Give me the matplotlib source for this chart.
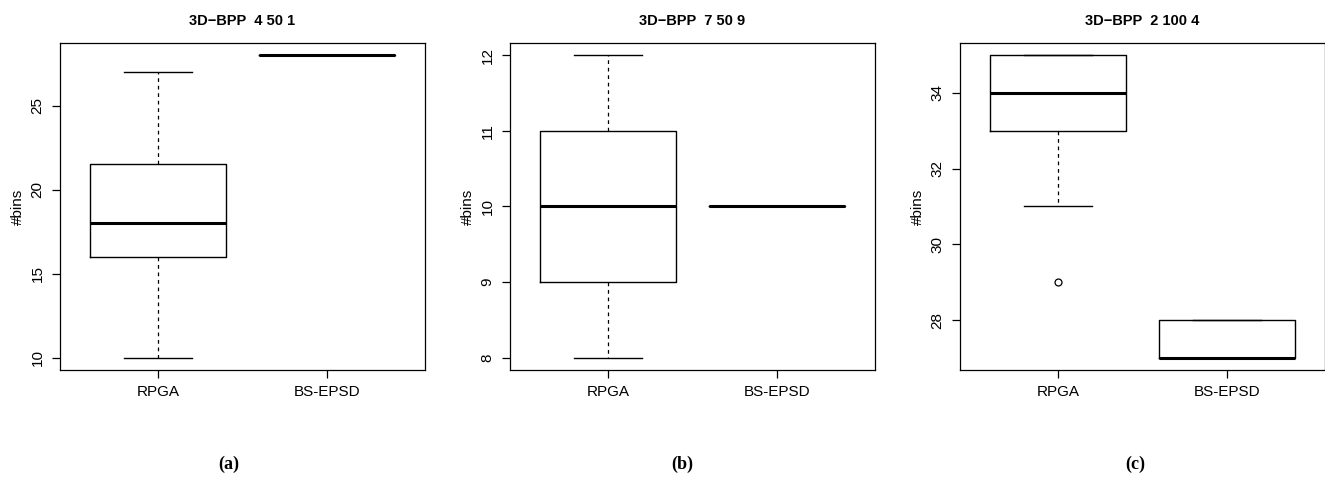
import numpy as np
import matplotlib
matplotlib.use('Agg')
import matplotlib.pyplot as plt

plt.rcParams['font.family'] = ['Liberation Sans', 'DejaVu Sans']

groups = ['RPGA', 'BS-EPSD']
titles = ['3D\u2212BPP  4 50 1', '3D\u2212BPP  7 50 9', '3D\u2212BPP  2 100 4']
captions = ['(a)', '(b)', '(c)']
caption_x = [0.173, 0.515, 0.857]

# per panel, per group: whisker low, q1, median, q3, whisker high
whislo = [[10, 28], [8, 10], [31, 27]]
q1 = [[16, 28], [9, 10], [33, 27]]
med = [[18, 28], [10, 10], [34, 27]]
q3 = [[21.5, 28], [11, 10], [35, 28]]
whishi = [[27, 28], [12, 10], [35, 28]]
fliers = [[[], []], [[], []], [[29], []]]

yticks = [[10, 15, 20, 25], [8, 9, 10, 11, 12], [28, 30, 32, 34]]

lefts = [0.0453, 0.3849, 0.7245]
w = 0.2755
bottom = 0.2276
h = 0.6826

fig = plt.figure(figsize=(13.25, 4.79), dpi=100)

for i in range(3):
    ax = fig.add_axes([lefts[i], bottom, w, h])
    stats = []
    for j in range(2):
        stats.append(dict(whislo=whislo[i][j], q1=q1[i][j], med=med[i][j],
                          q3=q3[i][j], whishi=whishi[i][j], fliers=fliers[i][j],
                          label=groups[j]))
    ax.bxp(stats, positions=[1, 2], widths=0.8, showfliers=True,
           boxprops=dict(color='black', linewidth=1.0),
           medianprops=dict(color='black', linewidth=2.2, solid_capstyle='butt'),
           whiskerprops=dict(color='black', linewidth=0.9, linestyle=(0, (3, 3))),
           capprops=dict(color='black', linewidth=1.0),
           capwidths=0.4,
           flierprops=dict(marker='o', markerfacecolor='none', markeredgecolor='black',
                           markersize=5, markeredgewidth=0.9))
    lo = min(whislo[i] + [f for g in fliers[i] for f in g])
    hi = max(whishi[i])
    pad = (hi - lo) * 0.04
    ax.set_ylim(lo - pad, hi + pad)
    ax.set_xlim(0.42, 2.58)
    ax.set_yticks(yticks[i])
    ax.set_yticklabels([str(t) for t in yticks[i]], rotation=90, va='center')
    ax.set_xticks([1, 2])
    ax.set_xticklabels(groups)
    ax.tick_params(direction='out', length=6, width=0.9, labelsize=11, pad=5)
    for s in ax.spines.values():
        s.set_linewidth(0.9)
    ax.set_ylabel('#bins', fontsize=11, labelpad=4)
    ax.set_title(titles[i], fontsize=10.5, fontweight='bold', pad=13)
    fig.text(caption_x[i], 0.03, captions[i], ha='center', va='center',
             fontsize=13, fontweight='bold', family='Liberation Serif')

fig.savefig('out.png', dpi=100)
